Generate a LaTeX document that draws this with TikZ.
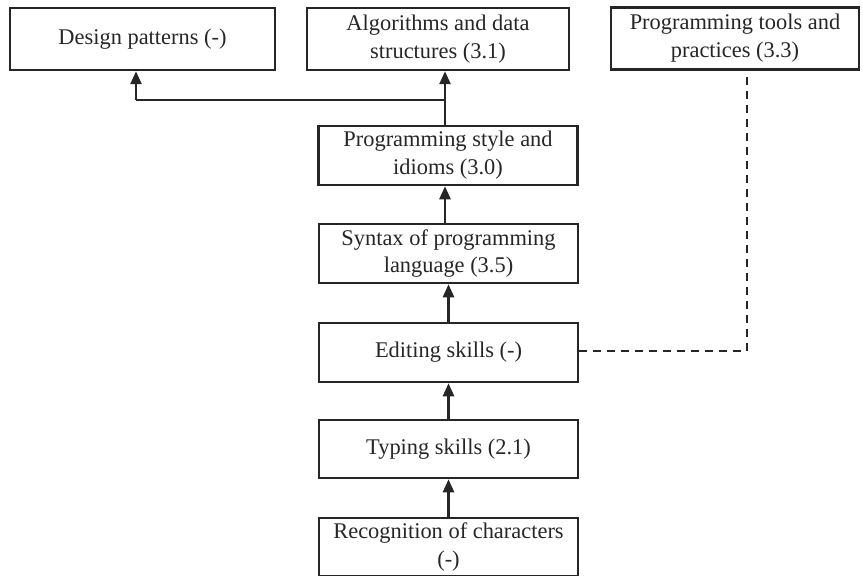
\documentclass[tikz,border=0pt]{standalone}
\usepackage{fontspec}
\setmainfont{Liberation Serif}
\usetikzlibrary{arrows.meta}
\tikzset{
  box/.style={draw=black!85, line width=2.5bp, align=center, inner sep=0pt,
    font=\fontsize{22.5}{28}\selectfont, text=black!85},
  arr/.style={line width=2.5bp, draw=black!85, -{Triangle[length=13bp,width=11bp]}},
  dashline/.style={line width=2.5bp, draw=black!85, dash pattern=on 8bp off 6bp}
}
\begin{document}
\begin{tikzpicture}[x=1bp,y=-1bp]
\useasboundingbox (0,0) rectangle (863,576);
\node[box, minimum width=265bp, minimum height=62bp] (dp) at (142.5,39) {Design patterns (-)};
\node[box, minimum width=262bp, minimum height=62bp] (alg) at (438,39) {Algorithms and data\\structures (3.1)};
\node[box, minimum width=248bp, minimum height=62bp] (tl) at (735,38.5) {Programming tools and\\practices (3.3)};
\node[box, minimum width=259bp, minimum height=59bp] (ps) at (448,155.5) {Programming style and\\idioms (3.0)};
\node[box, minimum width=259bp, minimum height=59bp] (syn) at (448.5,253.5) {Syntax of programming\\language (3.5)};
\node[box, minimum width=259bp, minimum height=59bp] (ed) at (448.5,352.5) {Editing skills (-)};
\node[box, minimum width=259bp, minimum height=58bp] (ty) at (448.5,449) {Typing skills (2.1)};
\node[box, minimum width=259bp, minimum height=58bp] (rec) at (448.5,547) {Recognition of characters\\(-)};
\coordinate (j) at (445,100);
\coordinate (jl) at (136,100);
\coordinate (d) at (747,351);
\draw[line width=2.5bp, draw=black!85] (ps.north -| j) -- (j) -- (jl);
\draw[arr] (j) -- (j |- alg.south);
\draw[arr] (jl) -- (jl |- dp.south);
\draw[arr] (syn.north -| j) -- (j |- ps.south);
\draw[arr] (ed.north) -- (syn.south);
\draw[arr] (ty.north) -- (ed.south);
\draw[arr] (rec.north) -- (ty.south);
\draw[dashline] (ed.east |- d) -- (d) -- (d |- tl.south);
\end{tikzpicture}
\end{document}
